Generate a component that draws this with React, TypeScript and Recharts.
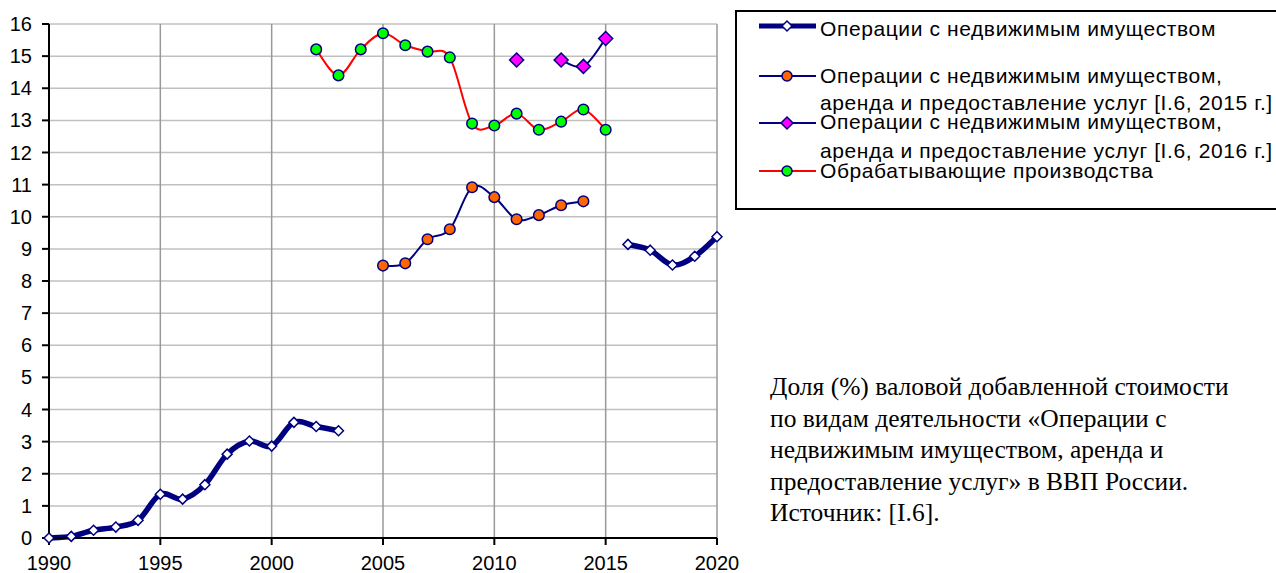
import React from 'react';
import { LineChart, Line, XAxis, YAxis, CartesianGrid } from 'recharts';

const years = [1990, 1991, 1992, 1993, 1994, 1995, 1996, 1997, 1998, 1999, 2000, 2001, 2002, 2003, 2004, 2005, 2006, 2007, 2008, 2009, 2010, 2011, 2012, 2013, 2014, 2015, 2016, 2017, 2018, 2019, 2020];

// Операции с недвижимым имуществом
const realEstate = [0, 0.05, 0.24, 0.34, 0.55, 1.36, 1.21, 1.66, 2.61, 3.02, 2.86, 3.6, 3.47, 3.34, null, null, null, null, null, null, null, null, null, null, null, null, 9.14, 8.96, 8.5, 8.77, 9.38];
// ... аренда и предоставление услуг [I.6, 2015 г.]
const src2015 = [null, null, null, null, null, null, null, null, null, null, null, null, null, null, null, 8.48, 8.55, 9.3, 9.61, 10.92, 10.61, 9.92, 10.05, 10.36, 10.48, null, null, null, null, null, null];
// ... аренда и предоставление услуг [I.6, 2016 г.]
const src2016 = [null, null, null, null, null, null, null, null, null, null, null, null, null, null, null, null, null, null, null, null, null, 14.88, null, 14.88, 14.68, 15.55, null, null, null, null, null];
// Обрабатывающие производства
const manufacturing = [null, null, null, null, null, null, null, null, null, null, null, null, 15.21, 14.4, 15.21, 15.71, 15.34, 15.14, 14.96, 12.9, 12.84, 13.21, 12.71, 12.96, 13.34, 12.71, null, null, null, null, null];

const xTicks = [1990, 1995, 2000, 2005, 2010, 2015, 2020];
const yTicks = [0, 1, 2, 3, 4, 5, 6, 7, 8, 9, 10, 11, 12, 13, 14, 15, 16];

const legendNames = [
  ['Операции с недвижимым имуществом'],
  ['Операции с недвижимым имуществом,', 'аренда и предоставление услуг [I.6, 2015 г.]'],
  ['Операции с недвижимым имуществом,', 'аренда и предоставление услуг [I.6, 2016 г.]'],
  ['Обрабатывающие производства'],
];

const noteLines = [
  'Доля (%) валовой добавленной стоимости',
  'по видам деятельности «Операции с',
  'недвижимым имуществом, аренда и',
  'предоставление услуг» в ВВП России.',
  'Источник: [I.6].',
];

const data = years.map((year, i) => ({
  year,
  realEstate: realEstate[i],
  src2015: src2015[i],
  src2016: src2016[i],
  manufacturing: manufacturing[i],
}));

const NAVY = '#000080';
const SANS = '"Liberation Sans", Arial, sans-serif';
const SERIF = '"Liberation Serif", "Times New Roman", serif';

// Excel-like smoothed line (Catmull-Rom through the points)
const smoothCurve = (context: any) => {
  let pts: number[][] = [];
  return {
    areaStart() {},
    areaEnd() {},
    lineStart() {
      pts = [];
    },
    point(x: number, y: number) {
      pts.push([+x, +y]);
    },
    lineEnd() {
      const n = pts.length;
      if (n === 0) return;
      context.moveTo(pts[0][0], pts[0][1]);
      for (let i = 0; i < n - 1; i++) {
        const p0 = pts[i - 1] || pts[i];
        const p1 = pts[i];
        const p2 = pts[i + 1];
        const p3 = pts[i + 2] || p2;
        context.bezierCurveTo(
          p1[0] + (p2[0] - p0[0]) / 6,
          p1[1] + (p2[1] - p0[1]) / 6,
          p2[0] - (p3[0] - p1[0]) / 6,
          p2[1] - (p3[1] - p1[1]) / 6,
          p2[0],
          p2[1]
        );
      }
    },
  };
};

const diamond = (fill: string, half: number) => (props: any) => {
  const { cx, cy, index } = props;
  if (cx == null || cy == null || isNaN(cx) || isNaN(cy)) return <g key={`d-${index}`} />;
  return (
    <path
      key={`d-${index}`}
      d={`M${cx},${cy - half}L${cx + half},${cy}L${cx},${cy + half}L${cx - half},${cy}Z`}
      fill={fill}
      stroke={NAVY}
      strokeWidth={1.5}
    />
  );
};

const circle = (fill: string, r: number) => (props: any) => {
  const { cx, cy, index } = props;
  if (cx == null || cy == null || isNaN(cx) || isNaN(cy)) return <g key={`c-${index}`} />;
  return <circle key={`c-${index}`} cx={cx} cy={cy} r={r} fill={fill} stroke={NAVY} strokeWidth={1.5} />;
};

const LegendBox = () => {
  const markerY = [26, 76, 123, 171];
  const lineBaselines = [[36], [83, 110], [129, 158], [178]];
  const x0 = 759;
  const x1 = 816;
  const xc = 787;
  return (
    <svg
      width={1276}
      height={573}
      style={{ position: 'absolute', left: 0, top: 0, pointerEvents: 'none' }}
    >
      <rect x={736} y={11} width={600} height={198} fill="#fff" stroke="#000" strokeWidth={2} />
      {/* entry 1 */}
      <line x1={x0} y1={markerY[0]} x2={x1} y2={markerY[0]} stroke={NAVY} strokeWidth={5} />
      <path d={`M${xc},${markerY[0] - 5}L${xc + 5},${markerY[0]}L${xc},${markerY[0] + 5}L${xc - 5},${markerY[0]}Z`} fill="#fff" stroke={NAVY} strokeWidth={1.5} />
      {/* entry 2 */}
      <line x1={x0} y1={markerY[1]} x2={x1} y2={markerY[1]} stroke={NAVY} strokeWidth={2} />
      <circle cx={xc} cy={markerY[1]} r={5} fill="#FF6600" stroke={NAVY} strokeWidth={1.5} />
      {/* entry 3 */}
      <line x1={x0} y1={markerY[2]} x2={x1} y2={markerY[2]} stroke={NAVY} strokeWidth={2} />
      <path d={`M${xc},${markerY[2] - 6}L${xc + 6},${markerY[2]}L${xc},${markerY[2] + 6}L${xc - 6},${markerY[2]}Z`} fill="#FF00FF" stroke={NAVY} strokeWidth={1.5} />
      {/* entry 4 */}
      <line x1={x0} y1={markerY[3]} x2={x1} y2={markerY[3]} stroke="#FF0000" strokeWidth={2} />
      <circle cx={xc} cy={markerY[3]} r={5} fill="#00FF00" stroke={NAVY} strokeWidth={1.5} />
      {legendNames.map((lines, i) =>
        lines.map((t, j) => (
          <text
            key={`${i}-${j}`}
            x={820}
            y={lineBaselines[i][j]}
            fontFamily={SANS}
            fontSize={21}
            letterSpacing={0.6}
            fill="#000"
          >
            {t}
          </text>
        ))
      )}
    </svg>
  );
};

const Note = () => (
  <div
    style={{
      position: 'absolute',
      left: 770,
      top: 371,
      fontFamily: SERIF,
      fontSize: 25.5,
      lineHeight: '31.5px',
      color: '#000',
      whiteSpace: 'nowrap',
    }}
  >
    {noteLines.map((l, i) => (
      <div key={i}>{l}</div>
    ))}
  </div>
);

export default function App() {
  return (
    <div style={{ position: 'absolute', left: 0, top: 0, width: 1276, height: 573, background: '#fff', overflow: 'hidden' }}>
      <LineChart
        width={1276}
        height={573}
        data={data}
        margin={{ top: 24, right: 559, bottom: 0, left: 0 }}
      >
        <CartesianGrid vertical={false} stroke="#c0c0c0" strokeWidth={1.5} />
        <CartesianGrid horizontal={false} stroke="#999999" strokeWidth={1.5} />
        <XAxis
          dataKey="year"
          type="number"
          domain={[1990, 2020]}
          ticks={xTicks}
          interval={0}
          height={35}
          tickSize={7}
          tickMargin={11}
          axisLine={{ stroke: '#000', strokeWidth: 2 }}
          tickLine={{ stroke: '#000', strokeWidth: 2 }}
          tick={{ fill: '#000', fontSize: 20, fontFamily: SANS }}
        />
        <YAxis
          type="number"
          domain={[0, 16]}
          ticks={yTicks}
          interval={0}
          width={49}
          tickSize={7}
          tickMargin={10}
          axisLine={{ stroke: '#000', strokeWidth: 2 }}
          tickLine={{ stroke: '#000', strokeWidth: 2 }}
          tick={{ fill: '#000', fontSize: 20, fontFamily: SANS }}
        />
        <Line
          dataKey="realEstate"
          type={smoothCurve as any}
          stroke={NAVY}
          strokeWidth={5.5}
          dot={diamond('#fff', 5)}
          isAnimationActive={false}
        />
        <Line
          dataKey="src2015"
          type={smoothCurve as any}
          stroke={NAVY}
          strokeWidth={2}
          dot={circle('#FF6600', 5.3)}
          isAnimationActive={false}
        />
        <Line
          dataKey="manufacturing"
          type={smoothCurve as any}
          stroke="#FF0000"
          strokeWidth={2}
          dot={circle('#00FF00', 5.3)}
          isAnimationActive={false}
        />
        <Line
          dataKey="src2016"
          type={smoothCurve as any}
          stroke={NAVY}
          strokeWidth={2}
          dot={diamond('#FF00FF', 7)}
          isAnimationActive={false}
        />
      </LineChart>
      <LegendBox />
      <Note />
    </div>
  );
}
